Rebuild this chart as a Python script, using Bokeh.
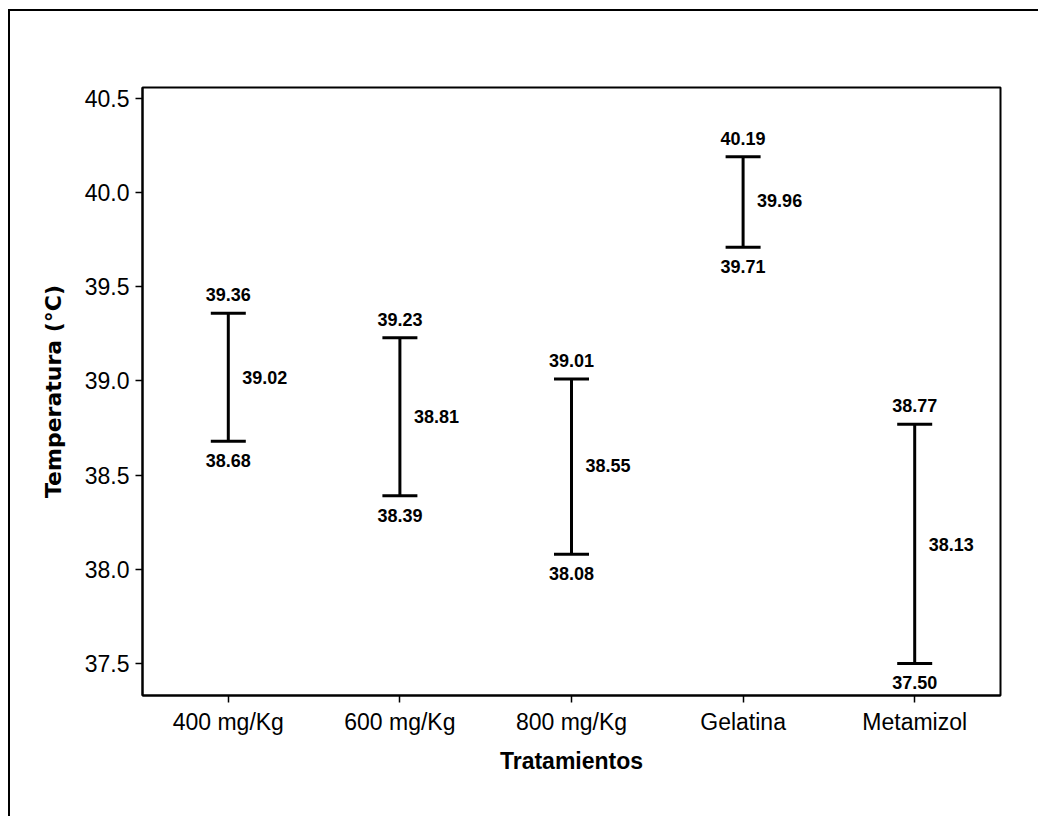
from bokeh.plotting import figure
from bokeh.models import ColumnDataSource, FactorRange, Range1d, Whisker, TeeHead, FixedTicker, PrintfTickFormatter
from bokeh.core.properties import value
from bokeh.embed import file_html
from bokeh.resources import INLINE

# ---- data ----
treatments = ["400 mg/Kg", "600 mg/Kg", "800 mg/Kg", "Gelatina", "Metamizol"]
upper = [39.36, 39.23, 39.01, 40.19, 38.77]
mean = [39.02, 38.81, 38.55, 39.96, 38.13]
lower = [38.68, 38.39, 38.08, 39.71, 37.50]
y_ticks = [37.5, 38.0, 38.5, 39.0, 39.5, 40.0, 40.5]

src = ColumnDataSource(dict(
    x=treatments, upper=upper, mean=mean, lower=lower,
    upper_lbl=[f"{v:.2f}" for v in upper],
    mean_lbl=[f"{v:.2f}" for v in mean],
    lower_lbl=[f"{v:.2f}" for v in lower],
))

p = figure(width=1030, height=807, output_backend="svg", toolbar_location=None,
           x_range=FactorRange(*treatments, range_padding=0),
           y_range=Range1d(37.33, 40.558),
           min_border_left=132, min_border_top=76, min_border_right=40, min_border_bottom=123)
p.styles = {"border-left": "2px solid black", "border-top": "2px solid black",
            "margin-top": "9px", "margin-left": "8px"}
p.background_fill_color = "white"
p.border_fill_color = "white"
p.outline_line_color = "black"
p.outline_line_width = 2
p.xgrid.visible = False
p.ygrid.visible = False

w = Whisker(base="x", upper="upper", lower="lower", source=src, dimension="height",
            line_color="black", line_width=3,
            upper_head=TeeHead(size=35, line_width=3, line_color="black"),
            lower_head=TeeHead(size=35, line_width=3, line_color="black"))
p.add_layout(w)

lbl = dict(text_font=value("Liberation Sans"), text_font_style="bold", text_font_size="18px",
           text_color="black")
p.text(x="x", y="upper", text="upper_lbl", source=src, text_align="center",
       text_baseline="bottom", y_offset=-12, **lbl)
p.text(x="x", y="lower", text="lower_lbl", source=src, text_align="center",
       text_baseline="top", y_offset=13, **lbl)
p.text(x="x", y="mean", text="mean_lbl", source=src, text_align="left",
       text_baseline="middle", x_offset=14, **lbl)

for ax in (p.xaxis[0], p.yaxis[0]):
    ax.axis_line_color = "black"
    ax.axis_line_width = 2
    ax.major_tick_line_color = "black"
    ax.major_tick_line_width = 1.5
    ax.major_tick_out = 7
    ax.major_tick_in = 0
    ax.minor_tick_line_color = None
    ax.major_label_text_font = "Liberation Sans"
    ax.major_label_text_font_size = "23px"
    ax.major_label_text_color = "black"
    ax.axis_label_text_font_style = "bold"
    ax.axis_label_text_color = "black"

p.yaxis.ticker = FixedTicker(ticks=y_ticks)
p.yaxis.formatter = PrintfTickFormatter(format="%.1f")
p.yaxis.major_label_standoff = 6
p.yaxis.axis_label = "Temperatura (°C)"
p.yaxis.axis_label_text_font = "DejaVu Sans"
p.yaxis.axis_label_text_font_size = "22px"
p.yaxis.axis_label_standoff = 16

p.xaxis.major_label_standoff = 6
p.xaxis.axis_label = "Tratamientos"
p.xaxis.axis_label_text_font = "Liberation Sans"
p.xaxis.axis_label_text_font_size = "23px"
p.xaxis.axis_label_standoff = 10

open("out.html", "w").write(file_html(p, INLINE))
